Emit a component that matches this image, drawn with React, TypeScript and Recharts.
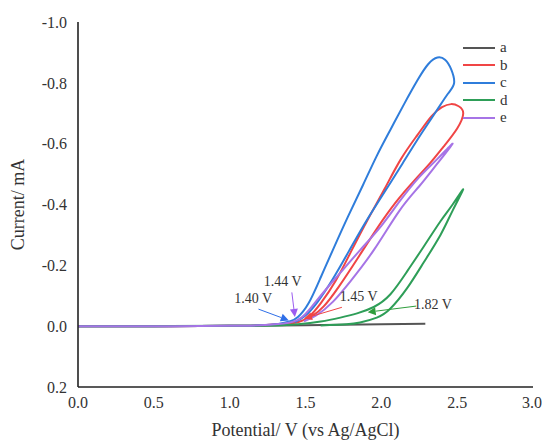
import React from "react";
import {
  LineChart,
  Line,
  XAxis,
  YAxis,
  Legend,
  ReferenceLine,
} from "recharts";

// potential (V) vs current (mA); forward scan then reverse scan
const curveA = [
  [0, 0], [0.5, 0], [1.0, -0.001], [1.5, -0.003], [2.0, -0.006], [2.29, -0.008],
];
const curveB = [
  [0, 0], [0.5, 0], [1.0, -0.001], [1.2, -0.003], [1.35, -0.007], [1.45, -0.013],
  [1.52, -0.03], [1.6, -0.075], [1.7, -0.15], [1.8, -0.245], [1.91, -0.35],
  [2.02, -0.45], [2.13, -0.55], [2.24, -0.63], [2.33, -0.69], [2.4, -0.72],
  [2.46, -0.73], [2.51, -0.723], [2.54, -0.7], [2.5, -0.65], [2.41, -0.59],
  [2.32, -0.535], [2.22, -0.48], [2.1, -0.41], [1.97, -0.32], [1.84, -0.22],
  [1.72, -0.13], [1.62, -0.065], [1.54, -0.032], [1.49, -0.022],
];
const curveC = [
  [0, 0], [0.5, 0], [1.0, -0.001], [1.2, -0.003], [1.32, -0.007], [1.4, -0.016],
  [1.45, -0.03], [1.52, -0.075], [1.6, -0.16], [1.68, -0.25], [1.78, -0.36],
  [1.88, -0.465], [1.97, -0.56], [2.06, -0.646], [2.15, -0.73], [2.24, -0.81],
  [2.31, -0.862], [2.37, -0.883], [2.42, -0.876], [2.46, -0.845], [2.48, -0.8],
  [2.44, -0.765], [2.36, -0.705], [2.26, -0.63], [2.14, -0.535], [2.02, -0.44],
  [1.9, -0.345], [1.79, -0.25], [1.68, -0.155], [1.58, -0.08], [1.5, -0.035],
  [1.43, -0.013],
];
const curveD = [
  [0, 0], [0.5, 0], [1.0, -0.001], [1.3, -0.002], [1.45, -0.006], [1.6, -0.015],
  [1.73, -0.028], [1.84, -0.042], [1.95, -0.063], [2.06, -0.105], [2.17, -0.18],
  [2.28, -0.262], [2.39, -0.345], [2.47, -0.4], [2.54, -0.45], [2.47, -0.38],
  [2.39, -0.3], [2.28, -0.21], [2.17, -0.125], [2.06, -0.058], [1.97, -0.028],
  [1.86, -0.012], [1.77, -0.006], [1.6, -0.002],
];
const curveE = [
  [0, 0], [0.5, 0], [1.0, -0.001], [1.2, -0.003], [1.32, -0.007], [1.42, -0.015],
  [1.5, -0.04], [1.6, -0.1], [1.72, -0.17], [1.86, -0.25], [2.0, -0.33],
  [2.12, -0.41], [2.25, -0.49], [2.37, -0.55], [2.47, -0.6], [2.37, -0.535],
  [2.25, -0.46], [2.12, -0.38], [1.95, -0.25], [1.8, -0.15], [1.68, -0.08],
  [1.57, -0.035], [1.49, -0.016],
];

const seriesNames = ["a", "b", "c", "d", "e"];
const seriesColors = ["#555555", "#f04545", "#2f7ddb", "#2e9e58", "#a674e6"];
const curves = [curveA, curveB, curveC, curveD, curveE];

const xTicks = [0, 0.5, 1.0, 1.5, 2.0, 2.5, 3.0];
const yTicks = [-1.0, -0.8, -0.6, -0.4, -0.2, 0, 0.2];

// onset annotations: label, arrow tail, arrow tip, text anchor (data coords)
const onsetLabels = ["1.40 V", "1.44 V", "1.45 V", "1.82 V"];
const onsetColors = ["#2f6fe8", "#9b5cf0", "#f04545", "#2e9e3c"];
const arrowTails = [[1.19, -0.056], [1.41, -0.111], [1.74, -0.062], [2.23, -0.066]];
const arrowTips = [[1.39, -0.019], [1.43, -0.03], [1.49, -0.025], [1.91, -0.046]];
const textSpots = [[1.155, -0.088], [1.35, -0.144], [1.85, -0.092], [2.34, -0.066]];

const serif = "'Liberation Serif', 'Times New Roman', serif";

const toPoints = (c: number[][]) => c.map(([x, y]) => ({ x, y }));

function ArrowShape(props: any) {
  const { x1, y1, x2, y2, color, text, tx, ty } = props;
  const ang = Math.atan2(y2 - y1, x2 - x1);
  const len = 8;
  const w = 4;
  const bx = x2 - len * Math.cos(ang);
  const by = y2 - len * Math.sin(ang);
  const p1 = `${bx + w * Math.sin(ang)},${by - w * Math.cos(ang)}`;
  const p2 = `${bx - w * Math.sin(ang)},${by + w * Math.cos(ang)}`;
  return (
    <g>
      <line x1={x1} y1={y1} x2={bx} y2={by} stroke={color} strokeWidth={1} />
      <polygon points={`${x2},${y2} ${p1} ${p2}`} fill={color} />
      <text
        x={tx}
        y={ty}
        fontFamily={serif}
        fontSize={14}
        fill="#333"
        textAnchor="middle"
        dominantBaseline="middle"
      >
        {text}
      </text>
    </g>
  );
}

function LegendBox() {
  return (
    <div style={{ fontFamily: serif, fontSize: 15, color: "#333" }}>
      {seriesNames.map((n, i) => (
        <div key={n} style={{ display: "flex", alignItems: "center", height: 17.5 }}>
          <div style={{ width: 32, height: 2, background: seriesColors[i], marginRight: 5 }} />
          <span>{n}</span>
        </div>
      ))}
    </div>
  );
}

export default function App() {
  const xSpan = 3.0 / 455;
  const ySpan = 1.2 / 365;
  return (
    <div style={{ position: "absolute", left: 0, top: 0, background: "#fff" }}>
      <LineChart
        width={542}
        height={441}
        margin={{ top: 22, right: 9, left: 0, bottom: 0 }}
      >
        <XAxis
          type="number"
          dataKey="x"
          domain={[0, 3]}
          ticks={xTicks}
          tickFormatter={(v: number) => v.toFixed(1)}
          tick={{ fontFamily: serif, fontSize: 16, fill: "#333" }}
          tickLine={false}
          tickSize={0}
          tickMargin={10}
          axisLine={{ stroke: "#222", strokeWidth: 1.6 }}
          height={54}
          allowDataOverflow
          label={{
            value: "Potential/ V (vs Ag/AgCl)",
            position: "insideBottom",
            offset: 5,
            style: { fontFamily: serif, fontSize: 18, fill: "#333" },
          }}
        />
        <YAxis
          type="number"
          dataKey="y"
          domain={[-1.0, 0.2]}
          reversed
          ticks={yTicks}
          tickFormatter={(v: number) => (v === 0 ? "0.0" : v.toFixed(1))}
          tick={{ fontFamily: serif, fontSize: 16, fill: "#333" }}
          tickLine={false}
          tickSize={0}
          tickMargin={11}
          axisLine={{ stroke: "#222", strokeWidth: 1.6 }}
          width={78}
          allowDataOverflow
          label={{
            value: "Current/ mA",
            angle: -90,
            position: "insideLeft",
            offset: 18,
            style: { fontFamily: serif, fontSize: 18, fill: "#333", textAnchor: "middle" },
          }}
        />
        <Legend
          verticalAlign="middle"
          align="center"
          layout="vertical"
          content={<LegendBox />}
          wrapperStyle={{ top: 39, left: 463, width: 60 }}
        />
        {curves.map((c, i) => (
          <Line
            key={seriesNames[i]}
            name={seriesNames[i]}
            data={toPoints(c)}
            dataKey="y"
            type="natural"
            stroke={seriesColors[i]}
            strokeWidth={2}
            strokeLinejoin="round"
            dot={false}
            activeDot={false}
            isAnimationActive={false}
          />
        ))}
        {onsetLabels.map((label, i) => (
          <ReferenceLine
            key={label}
            segment={[
              { x: arrowTails[i][0], y: arrowTails[i][1] },
              { x: arrowTips[i][0], y: arrowTips[i][1] },
            ]}
            ifOverflow="visible"
            shape={(p: any) => {
              const dx = (textSpots[i][0] - arrowTails[i][0]) / xSpan;
              const dy = (arrowTails[i][1] - textSpots[i][1]) / ySpan;
              return (
                <ArrowShape
                  {...p}
                  color={onsetColors[i]}
                  text={label}
                  tx={p.x1 + dx}
                  ty={p.y1 - dy}
                />
              );
            }}
          />
        ))}
      </LineChart>
    </div>
  );
}
